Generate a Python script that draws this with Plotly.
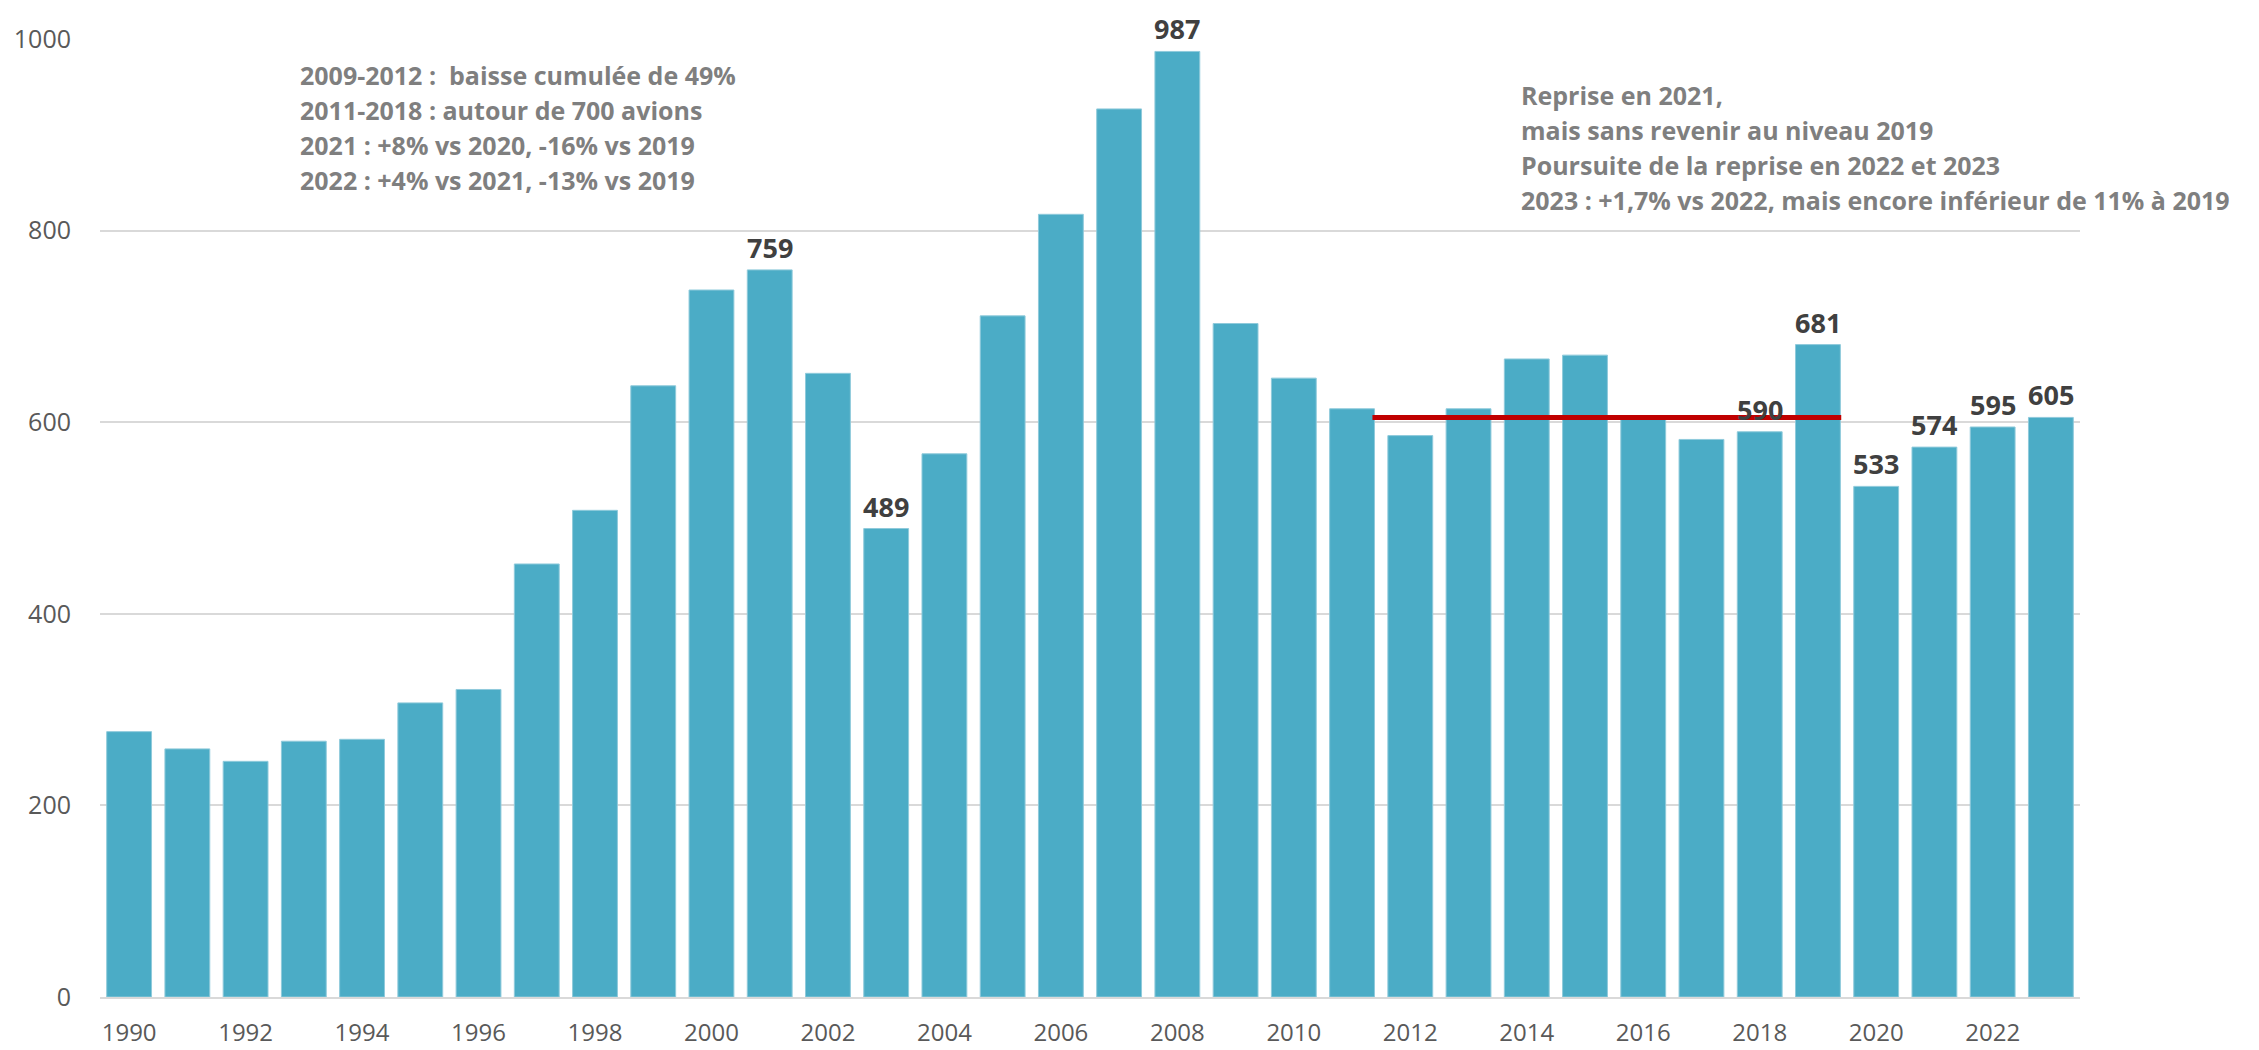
import plotly.graph_objects as go

years = list(range(1990, 2024))
values = [277, 259, 246, 267, 269, 307, 321, 452, 508, 638,
          738, 759, 651, 489, 567, 711, 817, 927, 987, 703,
          646, 614, 586, 614, 666, 670, 605, 582, 590, 681,
          533, 574, 595, 605]
label_years = [2001, 2003, 2008, 2018, 2019, 2020, 2021, 2022, 2023]
tick_years = years[::2]
tick_labels = [str(y) for y in tick_years]
ref_line_years = [2011.35, 2019.4]
ref_line_value = 605
y_ticks = [0, 200, 400, 600, 800, 1000]

left_notes = [
    "2009-2012 :  baisse cumulée de 49%",
    "2011-2018 : autour de 700 avions",
    "2021 : +8% vs 2020, -16% vs 2019",
    "2022 : +4% vs 2021, -13% vs 2019",
]
right_notes = [
    "Reprise en 2021,",
    "mais sans revenir au niveau 2019",
    "Poursuite de la reprise en 2022 et 2023",
    "2023 : +1,7% vs 2022, mais encore inférieur de 11% à 2019",
]

# page body has an 8px margin; figure sized to reach the viewport edges
OFF = 8
W, H = 2259 - 2 * OFF, 1050 - OFF
L, R, T, B = 100 - OFF, W - (2080 - OFF), 39 - OFF, H - (997 - OFF)
PW, PH = W - L - R, H - T - B

def page_to_paper(px, py):
    fx, fy = px - OFF, py - OFF
    return (fx - L) / PW, (H - B - fy) / PH

FONT = "Open Sans"

fig = go.Figure()
fig.add_trace(go.Bar(
    x=years, y=values,
    marker=dict(color="#4BACC6", line=dict(color="#8FCADB", width=1)),
    hoverinfo="x+y",
))
fig.add_trace(go.Scatter(
    x=ref_line_years, y=[ref_line_value] * len(ref_line_years),
    mode="lines", line=dict(color="#C00000", width=5), hoverinfo="skip",
))

annotations = []
for yr, v in zip(years, values):
    if yr in label_years:
        annotations.append(dict(
            x=yr, y=v, xref="x", yref="y", text=f"<b>{v}</b>",
            showarrow=False, yanchor="bottom", yshift=3, borderpad=0,
            font=dict(family=FONT, size=27, color="#404040"),
        ))

note_font = dict(family=FONT, size=25, color="#7F7F7F")
for i, line in enumerate(left_notes):
    xp, yp = page_to_paper(298, 75 + 35 * i)
    annotations.append(dict(
        x=xp, y=yp, xref="paper", yref="paper", text=f"<b>{line}</b>",
        showarrow=False, xanchor="left", yanchor="middle", font=note_font,
    ))
for i, line in enumerate(right_notes):
    xp, yp = page_to_paper(1519, 95 + 35 * i)
    annotations.append(dict(
        x=xp, y=yp, xref="paper", yref="paper", text=f"<b>{line}</b>",
        showarrow=False, xanchor="left", yanchor="middle", font=note_font,
    ))

fig.update_layout(
    width=W, height=H,
    margin=dict(l=L, r=R, t=T, b=B, autoexpand=False),
    paper_bgcolor="white", plot_bgcolor="white",
    showlegend=False, bargap=0.23,
    annotations=annotations,
    font=dict(family=FONT, color="#595959"),
)
fig.update_xaxes(
    range=[1989.5, 2023.5], tickvals=tick_years, ticktext=tick_labels,
    tickfont=dict(family=FONT, size=24, color="#595959"),
    showgrid=False, showline=True, linecolor="#D9D9D9", linewidth=2,
    ticks="", ticklabelstandoff=13, zeroline=False, automargin=False,
)
fig.update_yaxes(
    range=[0, 1000], tickvals=y_ticks,
    tickfont=dict(family=FONT, size=25, color="#595959"),
    showgrid=True, gridcolor="#D9D9D9", gridwidth=2,
    ticks="", ticklabelstandoff=28, zeroline=False, showline=False,
    automargin=False,
)

fig.write_html("out.html")
